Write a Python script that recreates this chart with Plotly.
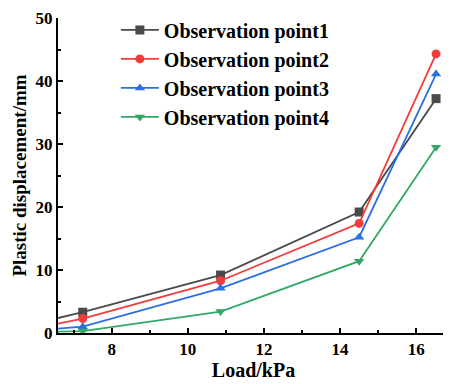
import plotly.graph_objects as go

load = [5.4, 7.24, 10.86, 14.5, 16.52]
p1 = [0.7, 3.3, 9.2, 19.2, 37.2]
p2 = [0.0, 2.3, 8.3, 17.4, 44.3]
p3 = [0.1, 1.0, 7.1, 15.2, 41.1]
p4 = [0.1, 0.3, 3.4, 11.4, 29.5]
names = ["Observation point1", "Observation point2", "Observation point3", "Observation point4"]
colors = ["#4a4a4a", "#f23c3c", "#2a6fe6", "#33a866"]
symbols = ["square", "circle", "triangle-up", "triangle-down"]
series = [p1, p2, p3, p4]

FONT = "Liberation Serif, Times New Roman, serif"

fig = go.Figure()
for name, ys, c, s in zip(names, series, colors, symbols):
    fig.add_trace(go.Scatter(
        x=load, y=ys, name=name, mode="lines+markers",
        line=dict(color=c, width=1.8),
        marker=dict(symbol=s, size=9, color=c),
        cliponaxis=True,
    ))

# page body adds an 8px offset; compensate in size and margins
fig.update_layout(
    width=443, height=376,
    margin=dict(l=50, r=2, t=8, b=51),
    plot_bgcolor="white", paper_bgcolor="white",
    font=dict(family=FONT, color="black"),
    showlegend=True,
    legend=dict(
        x=0.148, y=1.024, xanchor="left", yanchor="top",
        bgcolor="rgba(0,0,0,0)",
        font=dict(family=FONT, size=20, weight="bold", color="black"),
        itemwidth=38, tracegroupgap=0,
    ),
)
fig.update_xaxes(
    range=[6.59, 16.86], tickmode="array", tickvals=[8, 10, 12, 14, 16],
    showline=True, linecolor="black", linewidth=2, showgrid=False, zeroline=False,
    ticks="inside", ticklen=5, tickwidth=1.5, tickcolor="black",
    minor=dict(ticks="inside", ticklen=3, tickwidth=1.5, tickcolor="black", dtick=1, showgrid=False),
    tickfont=dict(family=FONT, size=17, weight="bold", color="black"),
    title=dict(text="Load/kPa", font=dict(family=FONT, size=20, weight="bold", color="black"), standoff=4),
)
fig.update_yaxes(
    range=[0, 50], tickmode="array", tickvals=[0, 10, 20, 30, 40, 50],
    showline=True, linecolor="black", linewidth=2, showgrid=False, zeroline=False,
    ticks="inside", ticklen=5, tickwidth=1.5, tickcolor="black",
    minor=dict(ticks="inside", ticklen=3, tickwidth=1.5, tickcolor="black", dtick=5, showgrid=False),
    tickfont=dict(family=FONT, size=17, weight="bold", color="black"),
    ticklabeloverflow="allow",
    title=dict(text="Plastic displacement/mm", font=dict(family=FONT, size=19, weight="bold", color="black"), standoff=4),
)
fig.write_html("out.html")
